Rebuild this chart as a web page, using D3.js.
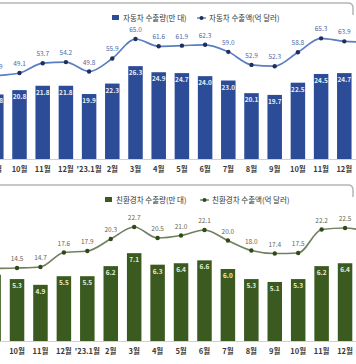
<!DOCTYPE html>
<html><head><meta charset="utf-8">
<script src="https://cdn.jsdelivr.net/npm/d3@7"></script>
<style>html,body{margin:0;padding:0;background:#fff;overflow:hidden}svg{display:block}</style>
</head><body>
<script>
const categories = ["9월","10월","11월","12월","'23.1월","2월","3월","4월","5월","6월","7월","8월","9월","10월","11월","12월",""];
const carVolume = [19.8,20.8,21.8,21.8,19.9,22.3,26.3,24.9,24.7,24.0,23.0,20.1,19.7,22.5,24.5,24.7,null];
const carValue = [47.9,49.1,53.7,54.2,49.8,55.9,65.0,61.6,61.9,62.3,59.0,52.9,52.3,58.8,65.3,63.9,63.5];
const ecoVolume = [5.6,5.3,4.9,5.5,5.5,6.2,7.1,6.3,6.4,6.6,6.0,5.3,5.1,5.3,6.2,6.4,null];
const ecoValue = [14.4,14.5,14.7,17.6,17.9,20.3,22.7,20.5,21.0,22.1,20.0,18.0,17.4,17.5,22.2,22.5,21.8];
const legendTop = ["자동차 수출량(만 대)","자동차 수출액(억 달러)"];
const legendBottom = ["친환경차 수출량(만 대)","친환경차 수출액(억 달러)"];

const W=356,H=364;
const svg=d3.select("body").append("svg").attr("width",W).attr("height",H);
const font="'Noto Sans CJK KR','Noto Sans',sans-serif";

function panel(o){
  const g=svg.append("g");
  const idx=d3.range(categories.length);
  const x=d3.scalePoint().domain(idx).range(o.xr);
  const yb=d3.scaleLinear().domain(o.bd).range(o.br);
  const yl=d3.scaleLinear().domain(o.ld).range(o.lr);
  g.append("path").attr("d",`M0,${o.border} L${W-8},${o.border} Q${W-3},${o.border} ${W-3},${o.border+5} L${W-3},${o.border+12}`)
    .attr("fill","none").attr("stroke","#b5b5b5").attr("stroke-width",1.5);
  g.append("line").attr("x1",0).attr("x2",W).attr("y1",o.br[0]+0.5).attr("y2",o.br[0]+0.5).attr("stroke","#d0d0d0");
  const bw=14.5;
  const bars=idx.filter(i=>o.bars[i]!=null);
  g.selectAll("rect.b").data(bars).join("rect")
    .attr("x",i=>x(i)-bw/2).attr("width",bw)
    .attr("y",i=>yb(o.bars[i])).attr("height",i=>yb.range()[0]-yb(o.bars[i]))
    .attr("fill",o.barColor);
  g.selectAll("text.bl").data(bars).join("text")
    .attr("x",i=>x(i)).attr("y",i=>yb(o.bars[i])+9)
    .attr("text-anchor","middle").attr("font-family",font).attr("font-size",6.5).attr("font-weight",700)
    .attr("fill",o.barLabel).text(i=>o.bars[i].toFixed(1));
  g.selectAll("text.xl").data(idx.filter(i=>categories[i])).join("text")
    .attr("x",i=>x(i)).attr("y",o.br[0]+12.5)
    .attr("text-anchor","middle").attr("font-family",font).attr("font-size",7.5).attr("font-weight",700)
    .attr("fill","#3a3a3a").text(i=>categories[i]);
  const line=d3.line().x(i=>x(i)).y(i=>yl(o.line[i])).curve(d3.curveMonotoneX);
  g.append("path").datum(idx).attr("d",line).attr("fill","none").attr("stroke",o.lineColor).attr("stroke-width",1.7);
  g.selectAll("circle").data(idx).join("circle")
    .attr("cx",i=>x(i)).attr("cy",i=>yl(o.line[i])).attr("r",2.2).attr("fill",o.dotColor);
  g.selectAll("text.ll").data(idx).join("text")
    .attr("x",i=>x(i)).attr("y",i=>yl(o.line[i])-7)
    .attr("text-anchor","middle").attr("font-family",font).attr("font-size",6.5)
    .attr("fill",o.lineLabel).text(i=>o.line[i].toFixed(1));
  const lg=g.append("g");
  lg.append("rect").attr("x",o.lx).attr("y",o.ly-3).attr("width",7).attr("height",5).attr("fill",o.barColor);
  lg.append("text").attr("x",o.lx+11).attr("y",o.ly+2.5).attr("font-family",font).attr("font-size",7.5)
    .attr("fill","#333").text(o.legend[0]);
  lg.append("line").attr("x1",o.lx2).attr("x2",o.lx2+9).attr("y1",o.ly).attr("y2",o.ly).attr("stroke",o.lineColor).attr("stroke-width",1.4);
  lg.append("circle").attr("cx",o.lx2+4.5).attr("cy",o.ly).attr("r",2).attr("fill",o.dotColor);
  lg.append("text").attr("x",o.lx2+12).attr("y",o.ly+2.5).attr("font-family",font).attr("font-size",7.5)
    .attr("fill","#333").text(o.legend[1]);
}

panel({xr:[-3.7,-3.7+16*23.2],bd:[5,30],br:[159,159-25*4.36],ld:[40,70],lr:[92.5,28.3],
  bars:carVolume,line:carValue,barColor:"#2c4c98",barLabel:"#e8ecf6",lineColor:"#5a7ec4",dotColor:"#1e2f5c",lineLabel:"#4e6aa6",
  border:3,lx:112,lx2:197,ly:18,legend:legendTop});
panel({xr:[-6.4,-6.4+16*23.43],bd:[1,8],br:[341,341-7*14.4],ld:[12,24],lr:[280.5,220.5],
  bars:ecoVolume,line:ecoValue,barColor:"#3b5a1f",barLabel:"#e6ecd8",lineColor:"#728060",dotColor:"#2e4a16",lineLabel:"#66665a",
  border:185,lx:105,lx2:200,ly:200,legend:legendBottom});
</script>
</body></html>
